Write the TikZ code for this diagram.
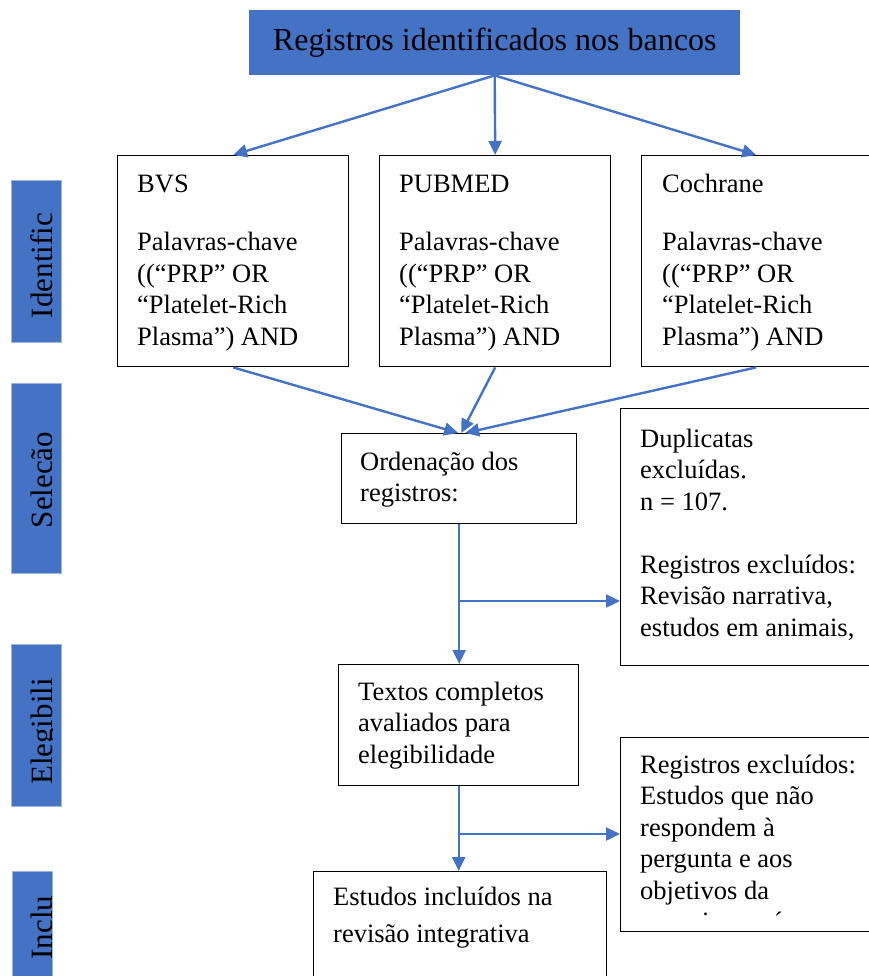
\documentclass[tikz,border=0pt]{standalone}
\usepackage{fontspec}
\setmainfont{Liberation Serif}
\usetikzlibrary{arrows.meta}
\definecolor{obl}{HTML}{4472C4}
\definecolor{obledge}{HTML}{9DB5E3}
\begin{document}
\begin{tikzpicture}[x=1pt,y=-1pt,
  boxn/.style={draw=black, line width=1.4pt, rectangle, inner sep=0pt, anchor=north west},
  txt/.style={anchor=north west, inner sep=0pt, align=left, font=\fontsize{26.5}{31.5}\selectfont},
  txtb/.style={anchor=north west, inner sep=0pt, align=left, font=\fontsize{26.5}{37}\selectfont},
  sidebox/.style={fill=obl, draw=obledge, line width=0.8pt, rectangle, inner sep=0pt, anchor=north west},
  sidetxt/.style={rotate=90, anchor=base, inner sep=0pt, font=\fontsize{31}{36}\selectfont},
  arr/.style={draw=obl, line width=2.4pt, -{Triangle[length=14pt,width=13pt]}}
]
\useasboundingbox (0,0) rectangle (869,976);
\clip (0,0) rectangle (869,976);

% title
\node[fill=obl, rectangle, inner sep=0pt, anchor=north west, minimum width=491pt, minimum height=65pt,
      font=\fontsize{32}{38}\selectfont] (title) at (249,10) {Registros identificados nos bancos};

% side labels
\node[sidebox, minimum width=50pt, minimum height=162pt] (s1) at (11,180) {};
\node[sidebox, minimum width=50pt, minimum height=190pt] (s2) at (11,383) {};
\node[sidebox, minimum width=50pt, minimum height=162pt] (s3) at (11,644) {};
\node[sidebox, minimum width=40pt, minimum height=120pt] (s4) at (12,871) {};
\begin{scope}
  \clip (11,180) rectangle (52.5,342);
  \node[sidetxt] (s1t) at (52.5,265.5) {Identific};
\end{scope}
\begin{scope}
  \clip (11,383) rectangle (51,573);
  \node[sidetxt] (s2t) at (52.5,480) {Seleção};
\end{scope}
\begin{scope}
  \clip (11,644) rectangle (52,806);
  \node[sidetxt] (s3t) at (52.5,731.5) {Elegibili};
\end{scope}
\begin{scope}
  \clip (12,871) rectangle (51.5,990);
  \node[sidetxt] (s4t) at (52.5,927.5) {Inclu};
\end{scope}

% database boxes
\node[boxn, minimum width=231pt, minimum height=211pt] (bvs) at (117,155) {};
\node[boxn, minimum width=231pt, minimum height=211pt] (pub) at (379,155) {};
\node[boxn, minimum width=229pt, minimum height=211pt] (coch) at (641,155) {};
\node[txt] (bvst) at (137,170) {\strut BVS\\[27pt]Palavras-chave\\((“PRP” OR\\“Platelet-Rich\\Plasma”) AND};
\node[txt] (pubt) at (399,170) {\strut PUBMED\\[27pt]Palavras-chave\\((“PRP” OR\\“Platelet-Rich\\Plasma”) AND};
\node[txt] (coct) at (662,170) {\strut Cochrane\\[27pt]Palavras-chave\\((“PRP” OR\\“Platelet-Rich\\Plasma”) AND};

% selection
\node[boxn, minimum width=235pt, minimum height=90pt] (ord) at (341,433) {};
\node[txt] (ordt) at (360,448) {\strut Ordenação dos\\registros:};
\node[boxn, minimum width=270pt, minimum height=257pt] (dup) at (620,408) {};
\node[txt] (dupt) at (640,425) {\strut Duplicatas\\excluídas.\\n = 107.\\[31.5pt]Registros excluídos:\\Revisão narrativa,\\estudos em animais,};

% eligibility
\node[boxn, minimum width=240pt, minimum height=121pt] (tex) at (338,664) {};
\node[txt] (text) at (358,678) {\strut Textos completos\\avaliados para\\elegibilidade};
\node[boxn, minimum width=270pt, minimum height=194pt] (reg) at (620,737) {};
\begin{scope}
  \clip (620,737) rectangle (880,915.5);
  \node[txt] (regt) at (640,751) {\strut Registros excluídos:\\Estudos que não\\respondem à\\pergunta e aos\\objetivos da\\pesquisa ou é};
\end{scope}

% inclusion
\node[boxn, minimum width=293pt, minimum height=130pt] (inc) at (313,871) {};
\node[txtb] (inct) at (333,879) {\strut Estudos incluídos na\\revisão integrativa};

% connectors
\draw[arr] (title.south) -- (bvs.north);
\draw[arr] (title.south) -- (pub.north);
\draw[arr] (title.south) -- (coch.north);
\draw[arr] (bvs.south) -- ([xshift=-1pt]ord.north);
\draw[arr] (pub.south) -- ([xshift=2pt]ord.north);
\draw[arr] (coch.south) -- ([xshift=6pt]ord.north);
\draw[arr] (ord.south) -- (ord.south |- tex.north);
\coordinate (b1) at (458.5,601);
\draw[arr] (b1) -- (b1 -| dup.west);
\draw[arr] (tex.south) -- (tex.south |- inc.north);
\coordinate (b2) at (458,834);
\draw[arr] (b2) -- (b2 -| reg.west);
\end{tikzpicture}
\end{document}
